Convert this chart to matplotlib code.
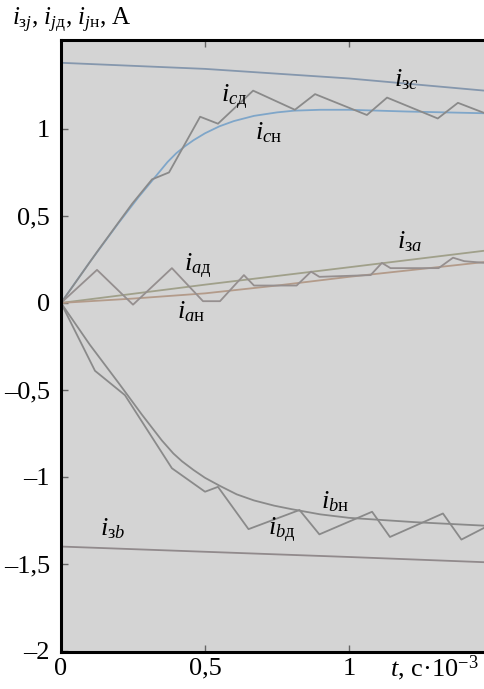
import matplotlib
matplotlib.use("Agg")
import matplotlib.pyplot as plt

plt.rcParams['font.family'] = ['Liberation Serif', 'DejaVu Serif']
plt.rcParams['mathtext.fontset'] = 'custom'
plt.rcParams['mathtext.rm'] = 'Liberation Serif'
plt.rcParams['mathtext.it'] = 'Liberation Serif:italic'

# reference currents (straight lines)
t_zc = [0, 0.5, 1.0, 1.47]
i_zc = [1.38, 1.345, 1.29, 1.22]
t_za = [0, 0.5, 1.0, 1.47]
i_za = [0, 0.105, 0.205, 0.30]
t_zb = [0, 0.5, 1.0, 1.47]
i_zb = [-1.40, -1.43, -1.46, -1.49]

# smooth (н) currents
t_cn = [0, 0.1, 0.2, 0.27, 0.34, 0.37, 0.40, 0.43, 0.46, 0.50, 0.55, 0.60,
        0.67, 0.75, 0.81, 0.9, 1.0, 1.2, 1.47]
i_cn = [0, 0.235, 0.46, 0.61, 0.75, 0.81, 0.86, 0.90, 0.935, 0.975, 1.015,
        1.045, 1.075, 1.095, 1.105, 1.11, 1.11, 1.10, 1.09]
t_an = [0, 0.25, 0.5, 0.75, 1.0, 1.25, 1.47]
i_an = [0, 0.025, 0.055, 0.10, 0.15, 0.195, 0.235]
t_bn = [0, 0.1, 0.2, 0.28, 0.35, 0.39, 0.42, 0.46, 0.50, 0.55, 0.61, 0.67,
        0.74, 0.80, 0.9, 1.0, 1.23, 1.47]
i_bn = [0, -0.24, -0.46, -0.64, -0.79, -0.865, -0.91, -0.96, -1.005, -1.05,
        -1.10, -1.135, -1.165, -1.185, -1.215, -1.235, -1.26, -1.28]

# pulsed (д) currents
t_cd = [0, 0.128, 0.247, 0.316, 0.375, 0.483, 0.545, 0.667, 0.812, 0.882,
        1.062, 1.132, 1.308, 1.378, 1.472]
i_cd = [0, 0.30, 0.57, 0.71, 0.75, 1.07, 1.03, 1.22, 1.11, 1.20,
        1.08, 1.18, 1.06, 1.15, 1.09]
t_ad = [0, 0.125, 0.25, 0.385, 0.493, 0.552, 0.635, 0.67, 0.818, 0.868,
        0.897, 1.075, 1.114, 1.144, 1.311, 1.361, 1.40, 1.472]
i_ad = [0, 0.19, -0.01, 0.20, 0.01, 0.01, 0.16, 0.10, 0.10, 0.18,
        0.15, 0.16, 0.23, 0.20, 0.20, 0.26, 0.24, 0.23]
t_bd = [0, 0.118, 0.222, 0.385, 0.50, 0.545, 0.651, 0.828, 0.897, 1.08,
        1.142, 1.326, 1.39, 1.472]
i_bd = [0, -0.39, -0.53, -0.95, -1.085, -1.057, -1.30, -1.19, -1.33, -1.20,
        -1.345, -1.21, -1.36, -1.29]

yticks = [-2, -1.5, -1, -0.5, 0, 0.5, 1]
ytick_labels = ['\u20132', '\u20131,5', '\u20131', '\u20130,5', '0', '0,5', '1']
xticks = [0, 0.5, 1]
xtick_labels = ['0', '0,5', '1']

fig = plt.figure(figsize=(4.85, 6.89), dpi=100)
ax = fig.add_axes([61 / 485, 1 - 652 / 689, 424 / 485, 612 / 689])
ax.set_facecolor('#d4d4d4')

gray = '#8a8a8a'
ax.plot(t_zc, i_zc, color='#8597ad', lw=1.3)
ax.plot(t_cn, i_cn, color='#7fa6c9', lw=1.3)
ax.plot(t_cd, i_cd, color=gray, lw=1.3)
ax.plot(t_za, i_za, color='#a0a08a', lw=1.3)
ax.plot(t_an, i_an, color='#b39b8a', lw=1.3)
ax.plot(t_ad, i_ad, color='#958f8f', lw=1.3)
ax.plot(t_bn, i_bn, color=gray, lw=1.3)
ax.plot(t_bd, i_bd, color=gray, lw=1.3)
ax.plot(t_zb, i_zb, color='#918a8c', lw=1.3)

ax.set_xlim(0, 1.472)
ax.set_ylim(-2.006, 1.511)
ax.set_xticks(xticks)
ax.set_xticklabels(xtick_labels)
ax.set_yticks(yticks)
ax.set_yticklabels(ytick_labels)
ax.tick_params(axis='both', direction='in', length=5, width=1, color='#666666',
               labelsize=19)
ax.tick_params(axis='x', top=True, pad=4)
ax.tick_params(axis='y', pad=8)

for side in ['left', 'top', 'bottom']:
    ax.spines[side].set_linewidth(2.2)
    ax.spines[side].set_color('black')
ax.spines['right'].set_visible(False)

fs = 19
ax.text(1.20, 1.28, r'$i_{\mathrm{з}c}$', fontsize=fs, ha='center', va='center')
ax.text(0.60, 1.18, r'$i_{c\mathrm{д}}$', fontsize=fs, ha='center', va='center')
ax.text(0.72, 0.98, r'$i_{c\mathrm{н}}$', fontsize=fs, ha='center', va='center')
ax.text(0.475, 0.21, r'$i_{a\mathrm{д}}$', fontsize=fs, ha='center', va='center')
ax.text(0.45, -0.05, r'$i_{a\mathrm{н}}$', fontsize=fs, ha='center', va='center')
ax.text(1.21, 0.35, r'$i_{\mathrm{з}a}$', fontsize=fs, ha='center', va='center')
ax.text(0.95, -1.14, r'$i_{b\mathrm{н}}$', fontsize=fs, ha='center', va='center')
ax.text(0.765, -1.31, r'$i_{b\mathrm{д}}$', fontsize=fs, ha='center', va='center')
ax.text(0.18, -1.30, r'$i_{\mathrm{з}b}$', fontsize=fs, ha='center', va='center')

fig.text(12 / 485, 1 - 20 / 689,
         r'$i_{\mathrm{з}j}$, $i_{j\mathrm{д}}$, $i_{j\mathrm{н}}$, A',
         fontsize=18, ha='left', va='center')
fig.text(390 / 485, 1 - 668 / 689, r'$t$, с·10$^{-3}$',
         fontsize=19, ha='left', va='center')

fig.savefig('out.png', dpi=100)
